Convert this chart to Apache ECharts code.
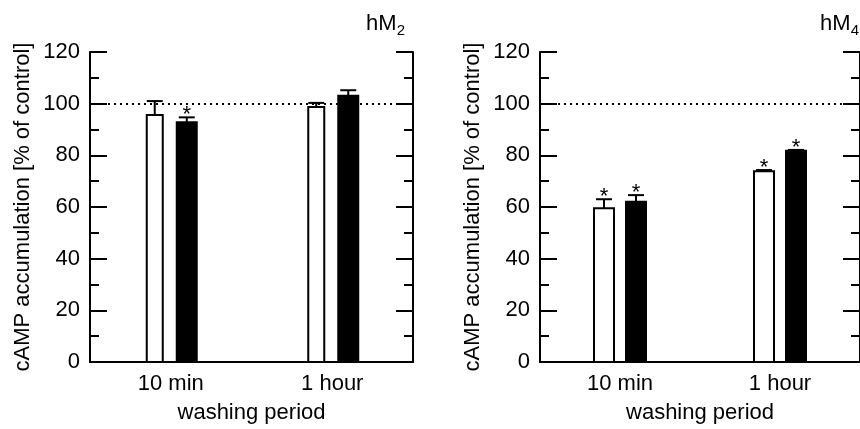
<!DOCTYPE html>
<html>
<head>
<meta charset="utf-8">
<script src="https://cdn.jsdelivr.net/npm/echarts@6/dist/echarts.min.js"></script>
<style>html,body{margin:0;padding:0;background:#fff}#c{width:860px;height:429px}</style>
</head>
<body>
<div id="c"></div>
<script>
// ---- data ----
var categories = ['10 min', '1 hour'];
var yTicks = [0, 20, 40, 60, 80, 100, 120];
var controlLevel = 100;

var hM2_open = [95.6, 98.7];
var hM2_openErr = [5.4, 1.6];
var hM2_openSig = [0, 0];
var hM2_filled = [92.8, 103.1];
var hM2_filledErr = [1.9, 2.1];
var hM2_filledSig = [1, 0];

var hM4_open = [59.5, 73.8];
var hM4_openErr = [3.5, 0.5];
var hM4_openSig = [1, 1];
var hM4_filled = [62.0, 81.8];
var hM4_filledErr = [2.6, 0.3];
var hM4_filledSig = [1, 1];

var panelTitles = ['hM', 'hM'];
var panelSubs = ['2', '4'];
var yName = 'cAMP accumulation [% of control]';
var xName = 'washing period';

// ---- build ----
var FONT = 'Liberation Sans, Arial, Helvetica, sans-serif';
var FS = 22;

function rows(vals, errs, sig) {
  return vals.map(function (v, i) { return [i, v, errs[i], sig[i]]; });
}

function barRenderer(offset, width, filled) {
  return function (params, api) {
    var ci = api.value(0), v = api.value(1), e = api.value(2), s = api.value(3);
    var top = api.coord([ci, v]);
    var base = api.coord([ci, 0]);
    var errTop = api.coord([ci, v + e]);
    var cx = top[0] + offset;
    var children = [];
    if (filled) {
      children.push({ type: 'rect', shape: { x: cx - width / 2, y: top[1] - 1, width: width, height: base[1] - top[1] + 1 },
        style: { fill: '#000', stroke: null } });
    } else {
      children.push({ type: 'rect', shape: { x: cx - width / 2, y: top[1], width: width, height: base[1] - top[1] },
        style: { fill: '#fff', stroke: '#000', lineWidth: 2 } });
    }
    children.push({ type: 'line', shape: { x1: cx, y1: top[1], x2: cx, y2: errTop[1] },
      style: { stroke: '#000', lineWidth: 2 } });
    children.push({ type: 'line', shape: { x1: cx - 8, y1: errTop[1], x2: cx + 8, y2: errTop[1] },
      style: { stroke: '#000', lineWidth: 2 } });
    if (s) {
      children.push({ type: 'text', style: { text: '*', x: cx, y: errTop[1] - 2, align: 'center', verticalAlign: 'middle',
        font: '22px ' + FONT, fill: '#000' } });
    }
    return { type: 'group', children: children };
  };
}

var grids = [
  { left: 90, top: 52, width: 323, height: 318 },
  { left: 540, top: 52, width: 322, height: 318 }
];

var xAxis = [], yAxis = [], series = [], title = [];
[0, 1].forEach(function (g) {
  xAxis.push({
    type: 'category', gridIndex: g, data: categories, position: 'bottom',
    axisLine: { lineStyle: { color: '#000', width: 2 } },
    axisTick: { inside: true, length: 10, alignWithLabel: true, lineStyle: { width: 2, color: '#000' } },
    axisLabel: { color: '#000', fontSize: FS, fontFamily: FONT, margin: 11 },
    name: xName, nameLocation: 'middle', nameGap: 40,
    nameTextStyle: { color: '#000', fontSize: FS, fontFamily: FONT }
  });
  xAxis.push({
    type: 'category', gridIndex: g, data: categories, position: 'top',
    axisLine: { lineStyle: { color: '#000', width: 2 } },
    axisTick: { inside: true, length: 10, alignWithLabel: true, lineStyle: { width: 2, color: '#000' } },
    axisLabel: { show: false }
  });
  var yBase = {
    type: 'value', gridIndex: g, min: yTicks[0], max: yTicks[yTicks.length - 1], interval: yTicks[1] - yTicks[0],
    axisLine: { show: true, lineStyle: { color: '#000', width: 2 } },
    axisTick: { show: true, inside: true, length: 17, lineStyle: { width: 2, color: '#000' } },
    minorTick: { show: true, splitNumber: 2, length: 9, lineStyle: { width: 2, color: '#000' } },
    splitLine: { show: false }
  };
  yAxis.push(Object.assign({}, yBase, {
    position: 'left',
    axisLabel: { color: '#000', fontSize: FS, fontFamily: FONT, margin: 10 },
    name: yName, nameLocation: 'middle', nameGap: 56,
    nameTextStyle: { color: '#000', fontSize: FS, fontFamily: FONT }
  }));
  yAxis.push(Object.assign({}, yBase, { position: 'right', axisLabel: { show: false } }));
});

var panels = [
  { open: rows(hM2_open, hM2_openErr, hM2_openSig), filled: rows(hM2_filled, hM2_filledErr, hM2_filledSig), ow: 16, fw: 22 },
  { open: rows(hM4_open, hM4_openErr, hM4_openSig), filled: rows(hM4_filled, hM4_filledErr, hM4_filledSig), ow: 20, fw: 22 }
];
panels.forEach(function (p, g) {
  series.push({
    type: 'custom', xAxisIndex: g * 2, yAxisIndex: g * 2, data: p.open,
    renderItem: barRenderer(-16, p.ow, false),
    markLine: {
      silent: true, symbol: ['none', 'none'], label: { show: false },
      lineStyle: { type: [2, 4], width: 2, color: '#000' },
      data: [{ yAxis: controlLevel }]
    }
  });
  series.push({
    type: 'custom', xAxisIndex: g * 2, yAxisIndex: g * 2, data: p.filled,
    renderItem: barRenderer(16, p.fw, true)
  });
});

var richTitle = {
  a: { fontSize: FS, fontFamily: FONT, fontWeight: 'normal', color: '#000', verticalAlign: 'bottom', lineHeight: 24 },
  b: { fontSize: 15, fontFamily: FONT, fontWeight: 'normal', color: '#000', verticalAlign: 'bottom', lineHeight: 15, padding: [0, 0, -3, 0] }
};
title.push({
  text: '{a|' + panelTitles[0] + '}{b|' + panelSubs[0] + '}', right: 450, top: 6,
  textStyle: { fontWeight: 'normal', rich: richTitle }
});
title.push({
  text: '{a|' + panelTitles[1] + '}{b|' + panelSubs[1] + '}', right: -4, top: 6,
  textStyle: { fontWeight: 'normal', rich: richTitle }
});

var chart = echarts.init(document.getElementById('c'), null, { renderer: 'canvas' });
chart.setOption({
  animation: false,
  backgroundColor: '#fff',
  title: title,
  grid: grids,
  xAxis: xAxis,
  yAxis: yAxis,
  series: series
});
</script>
</body>
</html>
